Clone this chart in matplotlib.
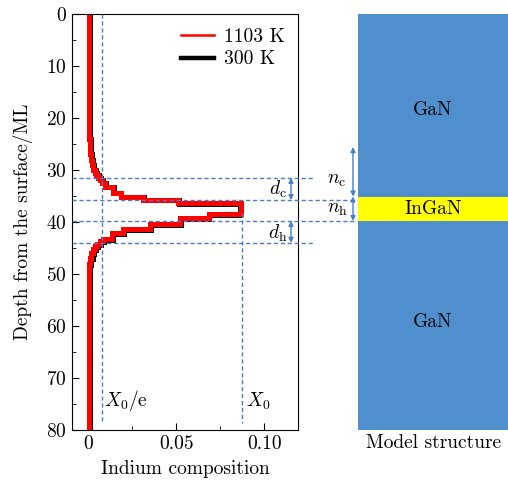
import matplotlib
matplotlib.use('Agg')
import matplotlib.pyplot as plt
from matplotlib.lines import Line2D
from matplotlib.patches import Rectangle

plt.rcParams['font.family'] = 'serif'
plt.rcParams['font.serif'] = ['cmr10']
plt.rcParams['mathtext.fontset'] = 'cm'
plt.rcParams['axes.formatter.use_mathtext'] = True
plt.rcParams['font.size'] = 14

# depth layer boundaries (ML) and indium composition per layer
red_edges = [0, 10, 20, 24, 26, 27, 28, 29, 30, 30.5, 31, 31.5, 32, 32.5, 33.3, 34.4, 35.2, 35.8,
             36.4, 38.4, 39.3, 40.3, 41.4, 42.2, 43.2, 43.7, 44.2, 44.7, 45.2, 46, 47, 48, 50, 60, 80]
red_comp = [0.0005, 0.0005, 0.0007, 0.001, 0.0014, 0.0018, 0.0024, 0.003, 0.0038, 0.0045,
            0.0055, 0.0068, 0.008, 0.0097, 0.0142, 0.0185, 0.0314, 0.0513, 0.0866, 0.0684,
            0.0523, 0.0352, 0.0200, 0.0135, 0.0087, 0.0068, 0.0052, 0.004, 0.003, 0.002,
            0.0012, 0.0008, 0.0006, 0.0005]

black_edges = [0, 10, 20, 24, 26, 27, 28, 29, 30, 30.5, 31, 31.5, 32, 32.5, 33.3, 34.4, 35.2, 35.8,
               36.5, 38.6, 39.5, 40.5, 41.6, 42.4, 43.4, 43.9, 44.4, 44.9, 45.4, 46.2, 47.2, 48.2, 50, 60, 80]
black_comp = [0.0011, 0.0011, 0.0013, 0.0016, 0.0020, 0.0024, 0.0030, 0.0036, 0.0044, 0.0051,
              0.0061, 0.0073, 0.0085, 0.0101, 0.0146, 0.0188, 0.0316, 0.0515, 0.0862, 0.0688,
              0.0527, 0.0356, 0.0205, 0.0140, 0.0093, 0.0075, 0.0059, 0.0047, 0.0037, 0.0027,
              0.0019, 0.0014, 0.0012, 0.0011]

x0 = 0.0875
x0_e = 0.008
d_c = (31.5, 35.8)
d_h = (39.8, 44.0)
n_c = (25.6, 35.1)
n_h = (35.1, 39.8)
xticks = [0, 0.05, 0.10]
xticklabels = ['0', '0.05', '0.10']

line_col = '#4a7ebf'
blue = '#4f8fcd'

fig = plt.figure(figsize=(5.08, 4.86), dpi=100)
bottom = 56 / 486
height = 416 / 486
ax = fig.add_axes([72 / 508, bottom, 226 / 508, height])

ax.stairs(black_comp, black_edges, orientation='horizontal', baseline=None,
          color='black', lw=3.6, zorder=2)
ax.stairs(red_comp, red_edges, orientation='horizontal', baseline=None,
          color='red', lw=3.6, zorder=2.1)

ax.vlines(x0_e, 0, 78.7, colors=line_col, linestyles=(0, (3, 2)), lw=1, zorder=3)
ax.vlines(x0, 38.3, 78.7, colors=line_col, linestyles=(0, (3, 2)), lw=1, zorder=3)
ax.text(x0_e + 0.001, 74.4, r'$X_0/\mathrm{e}$', va='center', ha='left')
ax.text(x0 + 0.002, 74.4, r'$X_0$', va='center', ha='left')

ax.set_xlim(-0.009, 0.119)
ax.set_ylim(80, 0)
ax.set_xticks(xticks)
ax.set_xticklabels(xticklabels)
ax.set_xticks([0.025, 0.075], minor=True)
ax.set_yticks(range(0, 81, 10))
ax.set_yticks(range(5, 80, 10), minor=True)
ax.tick_params(which='both', direction='in')
ax.tick_params(which='major', length=5)
ax.tick_params(which='minor', length=3)
ax.set_xlabel('Indium composition', labelpad=5)
ax.set_ylabel('Depth from the surface/ML', labelpad=10)

handles = [Line2D([], [], color='red', lw=1.8), Line2D([], [], color='black', lw=3.2)]
ax.legend(handles, ['1103 K', '300 K'], loc='upper right', frameon=False,
          handlelength=1.7, borderaxespad=0.3, labelspacing=0.25, handletextpad=0.5)

# overlay in pixel-like x units, depth in y
ov = fig.add_axes([0, bottom, 1, height])
ov.set_xlim(0, 508)
ov.set_ylim(80, 0)
ov.axis('off')
ov.patch.set_alpha(0)

ov.add_patch(Rectangle((358, 0), 150, 80, color=blue, lw=0, zorder=1))
ov.add_patch(Rectangle((358, n_h[0]), 150, n_h[1] - n_h[0], color='#ffff00', lw=0, zorder=1.5))
ov.text(433, 18.5, 'GaN', ha='center', va='center')
ov.text(433, 59.2, 'GaN', ha='center', va='center')
ov.text(433, 37.5, 'InGaN', ha='center', va='center')
ov.text(433, 82.5, 'Model structure', ha='center', va='center', clip_on=False)

ov.hlines([d_c[0], d_h[1]], 72, 315, colors=line_col, linestyles=(0, (3, 2)), lw=1, zorder=3)
ov.hlines([d_c[1], d_h[0]], 72, 357, colors=line_col, linestyles=(0, (3, 2)), lw=1, zorder=3)

arrow = dict(arrowstyle='<|-|>', color=line_col, lw=1, mutation_scale=7, shrinkA=0, shrinkB=0)
for (a, b) in [d_c, d_h]:
    ov.annotate('', xy=(291, a), xytext=(291, b), arrowprops=arrow)
for (a, b) in [n_c, n_h]:
    ov.annotate('', xy=(353, a), xytext=(353, b), arrowprops=arrow)

ov.text(287, 33.8, r'$d_\mathrm{c}$', ha='right', va='center')
ov.text(287, 42.1, r'$d_\mathrm{h}$', ha='right', va='center')
ov.text(337, 31.9, r'$n_\mathrm{c}$', ha='center', va='center')
ov.text(337, 37.5, r'$n_\mathrm{h}$', ha='center', va='center')

fig.savefig('out.png', dpi=100)
